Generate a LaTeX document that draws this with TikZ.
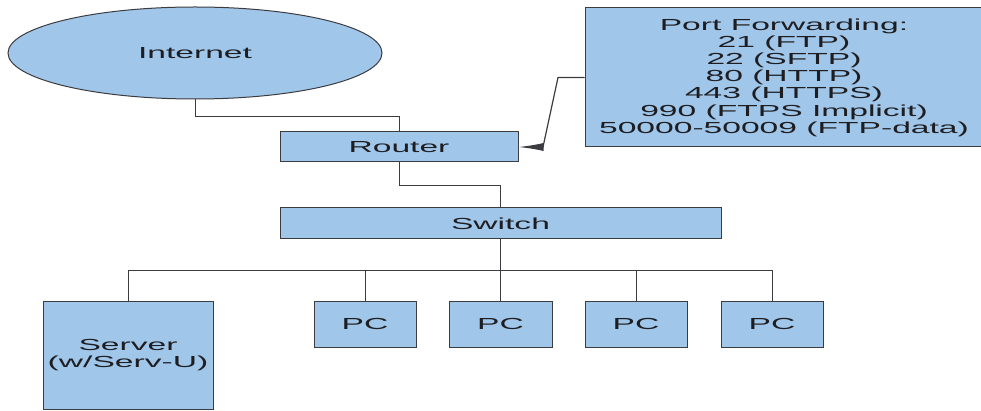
\documentclass[tikz,border=0pt]{standalone}
\usepackage{fontspec}
\setmainfont{Liberation Sans}[FakeStretch=2.1]
\usetikzlibrary{shapes.geometric,arrows.meta,calc}
\definecolor{boxfill}{RGB}{160,198,233}
\definecolor{boxline}{RGB}{60,60,64}
\definecolor{txt}{RGB}{30,30,34}
\tikzset{
  netbox/.style={draw=boxline, line width=1pt, fill=boxfill, rectangle, inner sep=0pt,
    text=txt, font=\fontsize{16}{17.2}\selectfont, align=center},
  cloud/.style={netbox, ellipse},
  wire/.style={draw=boxline, line width=0.9pt},
}
\begin{document}
\begin{tikzpicture}[x=1pt,y=-1pt]
\useasboundingbox (0,0) rectangle (981,411);
\node[cloud, minimum width=374pt, minimum height=92pt] (inet) at (195,53) {Internet};
\node[netbox, minimum width=238pt, minimum height=30pt] (router) at (399,147) {Router};
\node[netbox, minimum width=441pt, minimum height=31pt] (switch) at (500.5,223.5) {Switch};
\node[netbox, minimum width=170pt, minimum height=108pt] (server) at (128,355) {Server\\(w/Serv-U)};
\node[netbox, minimum width=102pt, minimum height=46pt] (pc1) at (365,324) {PC};
\node[netbox, minimum width=103pt, minimum height=46pt] (pc2) at (500.5,324) {PC};
\node[netbox, minimum width=102pt, minimum height=46pt] (pc3) at (636,324) {PC};
\node[netbox, minimum width=102pt, minimum height=46pt] (pc4) at (772,324) {PC};
\node[netbox, minimum width=398pt, minimum height=139pt] (pf) at (784,77.5) {Port Forwarding:\\21 (FTP)\\22 (SFTP)\\80 (HTTP)\\443 (HTTPS)\\990 (FTPS Implicit)\\50000-50009 (FTP-data)};
\coordinate (bus) at (0,270);
\coordinate (bendA) at (558,77.5);
\coordinate (bendB) at (543,147);
\draw[wire] (inet.south) -- ++(0,17) -| (router.north);
\draw[wire] (router.south) -- ++(0,23) -| (switch.north);
\draw[wire] (switch.south) -- (pc2.north);
\draw[wire] (server.north) |- (bus -| pc4.north) -- (pc4.north);
\draw[wire] (pc1.north) -- (pc1.north |- bus);
\draw[wire] (pc3.north) -- (pc3.north |- bus);
\draw[wire, line width=1.2pt, -{Latex[length=25pt,width=8pt]}] (pf.west) -- (bendA) -- (bendB) -- (router.east);
\end{tikzpicture}
\end{document}
